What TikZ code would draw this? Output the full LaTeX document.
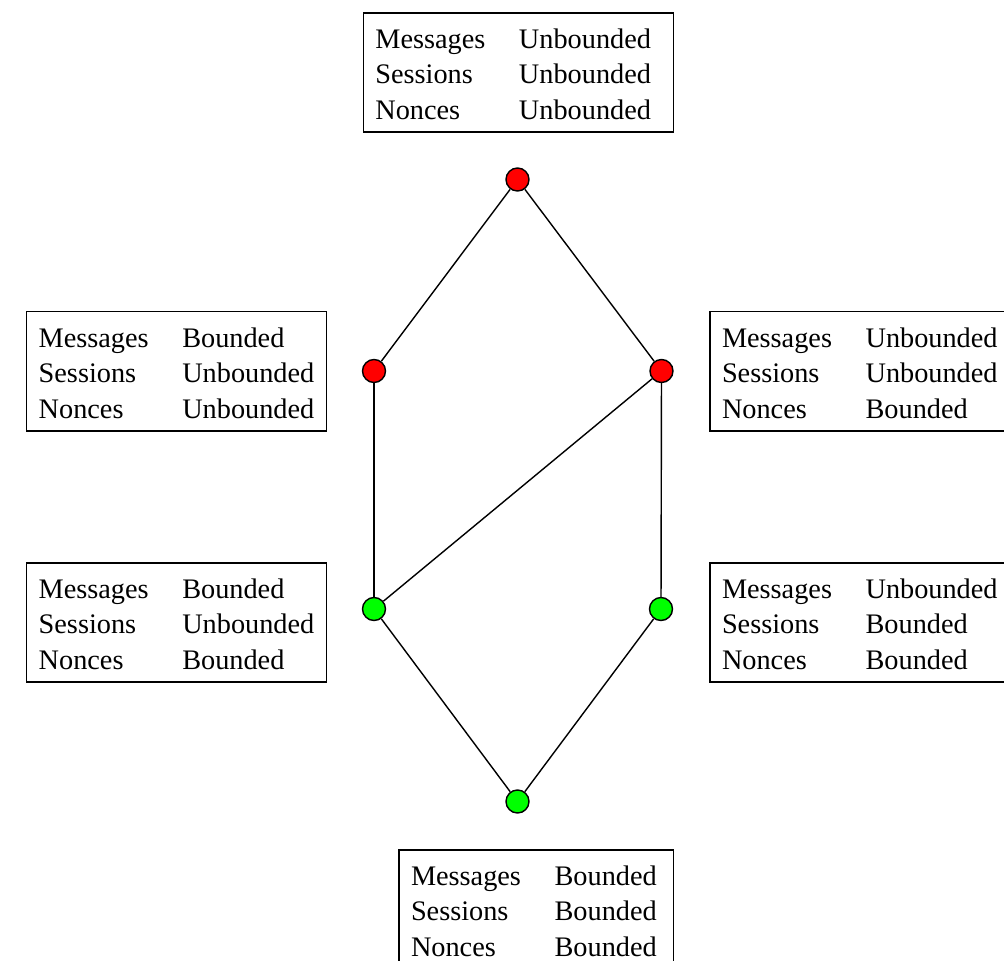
\documentclass[tikz,border=0pt]{standalone}
\usepackage{fontspec}
\setmainfont{Liberation Serif}
\usepackage{array}

% one box: the three parameters and their bounds
\newcommand{\boundtab}[3]{%
  \begin{tabular}{@{}p{1.436cm}@{}l@{}}
    \rule{0pt}{0.333cm}Messages & #1\\
    Sessions & #2\\
    Nonces & #3
  \end{tabular}}

\tikzset{
  state/.style={circle, draw, line width=0.4pt, inner sep=0pt, minimum size=0.23cm},
  open/.style={state, fill=red},
  closed/.style={state, fill=green},
  bounds/.style={draw, line width=0.4pt, anchor=north west, inner xsep=0.12cm,
    inner ysep=0.021cm, font=\fontsize{8.05}{10.1}\selectfont}
}

\begin{document}
\begin{tikzpicture}
\useasboundingbox (0,0) rectangle (10.04,-9.61);
\clip (0,0) rectangle (10.04,-9.61);

% the lattice
\node[open] (uuu) at (5.175,-1.795) {};
\node[open] (buu) at (3.74,-3.71) {};
\node[open] (uub) at (6.615,-3.71) {};
\node[closed] (bub) at (3.74,-6.09) {};
\node[closed] (ubb) at (6.61,-6.09) {};
\node[closed] (bbb) at (5.175,-8.015) {};

\draw[line width=0.4pt] (uuu) -- (buu);
\draw[line width=0.4pt] (uuu) -- (uub);
\draw[line width=0.4pt] (buu) -- (bub);
\draw[line width=0.4pt] (uub) -- (bub);
\draw[line width=0.4pt] (uub) -- (ubb);
\draw[line width=0.4pt] (bub) -- (bbb);
\draw[line width=0.4pt] (ubb) -- (bbb);

% the boxes
\node[bounds, text width=2.863cm] (uuu-box) at (3.627,-0.123) {\boundtab{Unbounded}{Unbounded}{Unbounded}};
\node[bounds, text width=2.76cm] (buu-box) at (0.26,-3.11) {\boundtab{Bounded}{Unbounded}{Unbounded}};
\node[bounds, text width=2.863cm] (uub-box) at (7.093,-3.11) {\boundtab{Unbounded}{Unbounded}{Bounded}};
\node[bounds, text width=2.76cm] (bub-box) at (0.26,-5.623) {\boundtab{Bounded}{Unbounded}{Bounded}};
\node[bounds, text width=2.863cm] (ubb-box) at (7.093,-5.623) {\boundtab{Unbounded}{Bounded}{Bounded}};
\node[bounds, text width=2.507cm] (bbb-box) at (3.983,-8.493) {\boundtab{Bounded}{Bounded}{Bounded}};
\end{tikzpicture}
\end{document}
